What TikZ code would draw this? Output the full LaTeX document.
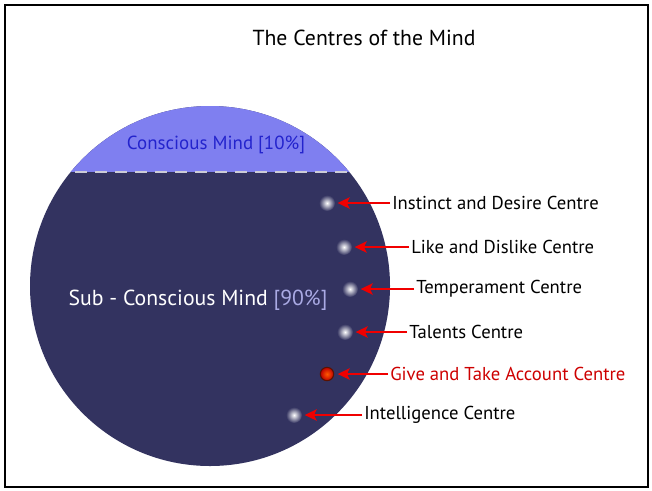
\documentclass[tikz,border=0pt]{standalone}
\usepackage{fontspec}
\setmainfont{PT Sans}
\usetikzlibrary{arrows.meta}
\definecolor{capblue}{RGB}{127,127,240}
\definecolor{subdark}{RGB}{51,51,96}
\definecolor{captext}{RGB}{35,35,205}
\definecolor{pcttext}{RGB}{170,170,228}
\definecolor{arrred}{RGB}{240,0,0}
\definecolor{givered}{RGB}{205,0,0}
\definecolor{ballrim}{RGB}{90,18,0}

\begin{document}
\begin{tikzpicture}[x=0.75pt, y=-0.75pt, glow/.style={circle, minimum size=12pt, inner sep=0, outer sep=2pt, shading=radial, inner color=white, outer color=subdark}, ball/.style={circle, minimum size=10pt, inner sep=0, outer sep=3pt, draw=ballrim, line width=0.8pt, shading=radial, inner color=orange!70!red, outer color=red!75!black}, lbl/.style={anchor=west, inner sep=1.5pt, font=\fontsize{14}{16}\selectfont}, n/.style={-{Stealth[length=9pt, width=8.5pt, inset=2pt]}, line width=1.5pt, arrred}]
            \useasboundingbox (0,0) rectangle (652,490);
            % frame and mind
            \draw[line width=2.2pt] (5,5) rectangle (648,487);
            \begin{scope}
                \clip (210,286) circle[radius=180];
                \fill[subdark] (0,0) rectangle (652,490);
                \fill[capblue] (0,0) rectangle (652,172);
            \end{scope}
            \draw[white!75!subdark, line width=1.5pt, dash pattern=on 9pt off 6pt] (75,172) -- (349,172);
            % texts
            \node (title) at (364,38) {\fontsize{16.3}{19}\selectfont The Centres of the Mind};
            \node[text=captext] (cons) at (216,145) {\fontsize{14.2}{17}\selectfont Conscious Mind [10\%]};
            \node[text=white] (subcons) at (198,300) {\fontsize{16.3}{19}\selectfont Sub - Conscious Mind \textcolor{pcttext}{[90\%]}};
            % nodes
            \node[glow] (d1) at (327,203) {};
            \node[glow] (d2) at (344,247) {};
            \node[glow] (d3) at (350,289) {};
            \node[glow] (d4) at (345,332) {};
            \node[ball] (d5) at (327,374) {};
            \node[glow] (d6) at (294,415) {};
            \node[lbl] (l1) at (390,203) {Instinct and Desire Centre};
            \node[lbl] (l2) at (409,247) {Like and Dislike Centre};
            \node[lbl] (l3) at (414,289) {Temperament Centre};
            \node[lbl] (l4) at (407,332) {Talents Centre};
            \node[lbl, text=givered] (l5) at (388,374) {Give and Take Account Centre};
            \node[lbl] (l6) at (362,415) {Intelligence Centre};
            % edges
            \draw[n] (l1) -- (d1);
            \draw[n] (l2) -- (d2);
            \draw[n] (l3) -- (d3);
            \draw[n] (l4) -- (d4);
            \draw[n] (l5) -- (d5);
            \draw[n] (l6) -- (d6);
        \end{tikzpicture}
\end{document}
